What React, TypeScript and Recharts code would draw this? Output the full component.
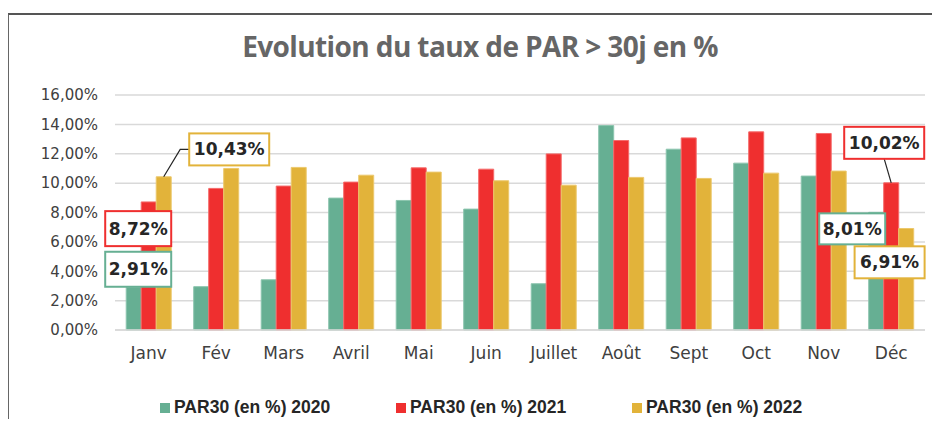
import React from 'react';
import { BarChart, Bar, XAxis, YAxis, CartesianGrid, LabelList } from 'recharts';

// Monthly PAR > 30 days, in percent
const months = ['Janv', 'Fév', 'Mars', 'Avril', 'Mai', 'Juin', 'Juillet', 'Août', 'Sept', 'Oct', 'Nov', 'Déc'];
const par2020 = [2.91, 2.95, 3.42, 8.98, 8.82, 8.23, 3.15, 13.92, 12.31, 11.36, 10.48, 8.01];
const par2021 = [8.72, 9.64, 9.8, 10.07, 11.04, 10.95, 11.99, 12.9, 13.08, 13.49, 13.38, 10.02];
const par2022 = [10.43, 11.0, 11.07, 10.54, 10.75, 10.16, 9.86, 10.39, 10.32, 10.68, 10.82, 6.91];
const yTicks = [0, 2, 4, 6, 8, 10, 12, 14, 16];

const series = [
  { key: 'y2020', name: 'PAR30 (en %) 2020', color: '#66AF93', stroke: '#8cc5ae' },
  { key: 'y2021', name: 'PAR30 (en %) 2021', color: '#EF2F2F', stroke: '#f56a6a' },
  { key: 'y2022', name: 'PAR30 (en %) 2022', color: '#E2B33A', stroke: '#ecc86c' },
];

const data = months.map((m, i) => ({
  name: m,
  y2020: par2020[i],
  y2021: par2021[i],
  y2022: par2022[i],
}));

// callout boxes: offset of box centre from the bar's top centre
type Callout = { dx: number; dy: number; w: number; h: number; leader?: [number, number][] };
const callouts: Record<string, Record<number, Callout>> = {
  y2020: {
    0: { dx: 4.5, dy: -18, w: 66, h: 35 },
    11: { dx: -24, dy: 16.5, w: 66, h: 31 },
  },
  y2021: {
    0: { dx: -10.5, dy: 26.7, w: 66, h: 35 },
    11: { dx: -7, dy: -40, w: 80, h: 32, leader: [[0, 0], [-7, -24]] },
  },
  y2022: {
    0: { dx: 65.5, dy: -27.4, w: 80, h: 32, leader: [[0, 0], [16.5, -27.4], [25.5, -27.4]] },
    11: { dx: -16.6, dy: 33.8, w: 70, h: 32 },
  },
};

const fmt = (v: number) => v.toFixed(2).replace('.', ',') + '%';

const makeCallout = (key: string, color: string) => (props: any) => {
  const { x, y, width, value, index } = props;
  const c = callouts[key][index];
  if (!c) return null;
  const bx = Number(x) + Number(width) / 2;
  const by = Number(y);
  const cx = bx + c.dx;
  const cy = by + c.dy;
  return (
    <g>
      {c.leader && (
        <polyline
          points={c.leader.map(([px, py]) => `${bx + px},${by + py}`).join(' ')}
          fill="none"
          stroke="#262626"
          strokeWidth={1.2}
        />
      )}
      <rect x={cx - c.w / 2} y={cy - c.h / 2} width={c.w} height={c.h} fill="#fff" stroke={color} strokeWidth={2} />
      <text
        x={cx}
        y={cy}
        textAnchor="middle"
        dominantBaseline="central"
        fontFamily="'DejaVu Sans', sans-serif"
        fontWeight="bold"
        fontSize={17}
        fill="#262626"
      >
        {fmt(Number(value))}
      </text>
    </g>
  );
};

export default function App() {
  return (
    <div
      style={{
        position: 'relative',
        width: 940,
        height: 427,
        margin: -8,
        background: '#fff',
        overflow: 'hidden',
        fontFamily: "'DejaVu Sans', sans-serif",
      }}
    >
      <div
        style={{
          position: 'absolute',
          left: 10,
          width: 940,
          top: 27,
          textAlign: 'center',
          fontFamily: "'Open Sans', sans-serif",
          fontWeight: 700,
          fontSize: 28,
          color: '#666666',
          letterSpacing: -0.6,
        }}
      >
        Evolution du taux de PAR &gt; 30j en %
      </div>
      <div style={{ position: 'absolute', left: 0, top: 0 }}>
        <BarChart
          width={940}
          height={427}
          data={data}
          margin={{ top: 95, right: 15, left: 0, bottom: 67 }}
          barCategoryGap="16.6%"
          barGap={0}
        >
          <CartesianGrid vertical={false} stroke="#d9d9d9" strokeWidth={1.5} />
          <XAxis
            dataKey="name"
            height={30}
            tickLine={false}
            axisLine={{ stroke: '#d9d9d9', strokeWidth: 1.5 }}
            tickSize={0}
            tickMargin={17}
            tick={{ fill: '#404040', fontSize: 17, fontFamily: "'DejaVu Sans', sans-serif" }}
          />
          <YAxis
            width={115}
            domain={[0, 16]}
            ticks={yTicks}
            tickFormatter={fmt}
            axisLine={false}
            tickLine={false}
            tickSize={0}
            tickMargin={17}
            tick={{ fill: '#404040', fontSize: 15, fontFamily: "'DejaVu Sans', sans-serif" }}
          />
          {series.map((s) => (
            <Bar
              key={s.key}
              dataKey={s.key}
              name={s.name}
              fill={s.color}
              stroke={s.stroke}
              strokeWidth={1}
              isAnimationActive={false}
            >
              <LabelList dataKey={s.key} content={makeCallout(s.key, s.color)} />
            </Bar>
          ))}
        </BarChart>
      </div>
      {series.map((s, i) => (
        <div
          key={s.key}
          style={{
            position: 'absolute',
            left: 160 + i * 236,
            top: 397,
            display: 'flex',
            alignItems: 'center',
            fontFamily: "'Liberation Sans', sans-serif",
            fontWeight: 700,
            fontSize: 17.5,
            color: '#262626',
          }}
        >
          <span style={{ display: 'inline-block', width: 10, height: 10, background: s.color, marginRight: 4 }} />
          {s.name}
        </div>
      ))}
      <div
        style={{
          position: 'absolute',
          left: 7,
          top: 13,
          width: 960,
          height: 440,
          borderTop: '2px solid #555',
          borderLeft: '2px solid #666',
          pointerEvents: 'none',
          zIndex: 2,
        }}
      />
    </div>
  );
}
